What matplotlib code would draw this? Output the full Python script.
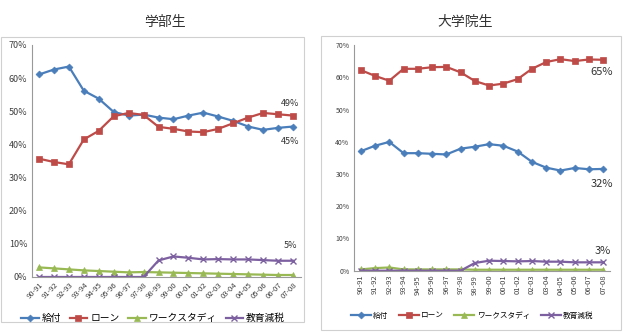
import matplotlib
matplotlib.use("Agg")
import matplotlib.pyplot as plt
from matplotlib.patches import Rectangle

plt.rcParams['font.family'] = ['Noto Sans CJK JP', 'DejaVu Sans']

years = ['90-91', '91-92', '92-93', '93-94', '94-95', '95-96', '96-97', '97-98', '98-99',
         '99-00', '00-01', '01-02', '02-03', '03-04', '04-05', '05-06', '06-07', '07-08']
series_names = ['給付', 'ローン', 'ワークスタディ', '教育減税']

# 学部生
ug_grant = [61.1, 62.6, 63.5, 56.2, 53.8, 49.8, 48.7, 49.0, 48.1, 47.6, 48.7, 49.6, 48.4, 47.1, 45.4, 44.4, 45.0, 45.4]
ug_loan = [35.7, 34.7, 34.0, 41.5, 44.1, 48.5, 49.5, 48.9, 45.3, 44.7, 43.9, 43.7, 44.7, 46.4, 48.1, 49.5, 49.1, 48.7]
ug_work = [2.9, 2.6, 2.3, 2.0, 1.8, 1.6, 1.4, 1.5, 1.4, 1.3, 1.2, 1.1, 1.0, 0.9, 0.8, 0.7, 0.6, 0.6]
ug_tax = [0, 0, 0, 0, 0, 0, 0, 0, 5.0, 6.2, 5.8, 5.3, 5.4, 5.3, 5.3, 5.1, 4.9, 4.9]

# 大学院生
gr_grant = [37.1, 38.8, 40.0, 36.5, 36.5, 36.3, 36.1, 37.9, 38.5, 39.3, 38.8, 37.0, 33.8, 32.0, 31.1, 31.9, 31.5, 31.6]
gr_loan = [62.3, 60.5, 59.0, 62.7, 62.7, 63.2, 63.3, 61.6, 58.9, 57.5, 58.1, 59.5, 62.7, 64.8, 65.7, 65.1, 65.6, 65.5]
gr_work = [0.4, 0.8, 1.0, 0.4, 0.4, 0.4, 0.4, 0.4, 0.3, 0.3, 0.3, 0.3, 0.3, 0.3, 0.3, 0.3, 0.3, 0.3]
gr_tax = [0, 0, 0, 0, 0, 0, 0, 0, 2.4, 3.1, 3.0, 2.9, 3.0, 2.8, 2.8, 2.6, 2.6, 2.6]

W, H = 624, 335
fig = plt.figure(figsize=(W / 100, H / 100), dpi=100)

def px_axes(x0, y0, x1, y1):
    # pixel box (top-left origin) -> figure axes
    return fig.add_axes([x0 / W, 1 - y1 / H, (x1 - x0) / W, (y1 - y0) / H])

# panel frames
fig.patches.append(Rectangle((1 / W, 1 - 322 / H), 303 / W, 285 / H, transform=fig.transFigure,
                             fill=False, edgecolor='#d0d0d0', lw=0.8))
fig.patches.append(Rectangle((321 / W, 1 - 330 / H), 300 / W, 294 / H, transform=fig.transFigure,
                             fill=False, edgecolor='#d0d0d0', lw=0.8))

fig.text(165 / W, 1 - 22 / H, '学部生', ha='center', va='center', fontsize=10, color='#333333')
fig.text(465 / W, 1 - 22 / H, '大学院生', ha='center', va='center', fontsize=10, color='#333333')

colors = ['#4a7ebb', '#be4b48', '#98b954', '#7d60a0']
markers = ['D', 's', '^', 'x']
msizes = [3.5, 5, 4.5, 4.5]

def draw(ax, data, tick_fs, rot):
    x = list(range(len(years)))
    handles = []
    for vals, c, m, ms in zip(data, colors, markers, msizes):
        h, = ax.plot(x, vals, color=c, marker=m, markersize=ms, lw=1.6,
                     markeredgewidth=1.0 if m == 'x' else 0.5)
        handles.append(h)
    ax.set_xlim(-0.5, len(years) - 0.5)
    ax.set_ylim(0, 70)
    ax.set_yticks(range(0, 71, 10))
    ax.set_yticklabels(['%d%%' % v for v in range(0, 71, 10)], fontsize=tick_fs, color='#404040')
    ax.set_xticks(x)
    if rot == 45:
        ax.set_xticklabels(years, rotation=45, ha='right', rotation_mode='anchor', fontsize=5.5, color='#404040')
    else:
        ax.set_xticklabels(years, rotation=90, fontsize=5.5, color='#404040')
    for s in ['top', 'right']:
        ax.spines[s].set_visible(False)
    for s in ['left', 'bottom']:
        ax.spines[s].set_color('#999999')
        ax.spines[s].set_linewidth(0.8)
    ax.tick_params(length=0, pad=3)
    return handles

ax1 = px_axes(31.5, 45, 300.5, 277)
h1 = draw(ax1, [ug_grant, ug_loan, ug_work, ug_tax], 6.5, 45)
ax1.annotate('49%', (17, ug_loan[-1]), xytext=(-2, 9), textcoords='offset points',
             ha='center', va='center', fontsize=6.5, color='#333333')
ax1.annotate('45%', (17, ug_grant[-1]), xytext=(-2, -11), textcoords='offset points',
             ha='center', va='center', fontsize=6.5, color='#333333')
ax1.annotate('5%', (17, ug_tax[-1]), xytext=(-2, 11), textcoords='offset points',
             ha='center', va='center', fontsize=6.5, color='#333333')
fig.legend(h1, series_names, loc='center', bbox_to_anchor=(153 / W, 1 - 318 / H), ncol=4,
           frameon=False, fontsize=7, handlelength=1.8, columnspacing=0.9, handletextpad=0.3)

ax2 = px_axes(353.6, 45.3, 610.4, 270.7)
h2 = draw(ax2, [gr_grant, gr_loan, gr_work, gr_tax], 5, 90)
ax2.annotate('65%', (17, gr_loan[-1]), xytext=(-1, -9), textcoords='offset points',
             ha='center', va='center', fontsize=8, color='#333333')
ax2.annotate('32%', (17, gr_grant[-1]), xytext=(-1, -11), textcoords='offset points',
             ha='center', va='center', fontsize=8, color='#333333')
ax2.annotate('3%', (17, gr_tax[-1]), xytext=(0, 8), textcoords='offset points',
             ha='center', va='center', fontsize=8, color='#333333')
fig.legend(h2, series_names, loc='center', bbox_to_anchor=(472 / W, 1 - 316 / H), ncol=4,
           frameon=False, fontsize=5.5, handlelength=2.6, columnspacing=1.4, handletextpad=0.3)

fig.savefig('out.png', dpi=100)
